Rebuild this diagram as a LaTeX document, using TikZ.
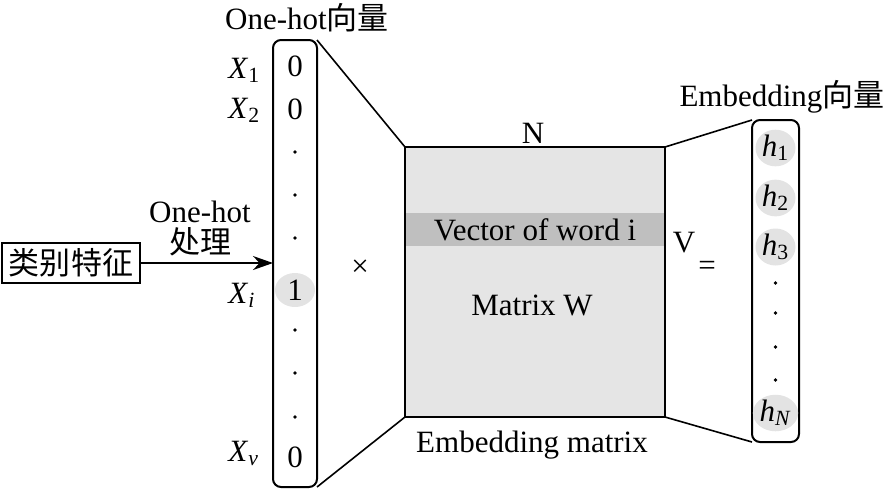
\documentclass[tikz,border=0pt]{standalone}
\usepackage{fontspec}
\setmainfont{Liberation Serif}
\newfontfamily\cjk{Noto Sans CJK SC}
\usetikzlibrary{positioning,shapes.geometric,arrows.meta}

\newcommand{\xlab}[1]{\textit{X}\textsubscript{#1}}
\newcommand{\hlab}[1]{\textit{h}\textsubscript{#1}}

\begin{document}
\begin{tikzpicture}[font=\fontsize{15.5}{15.5}\selectfont,
  vecbox/.style={draw,line width=1pt,rounded corners=4pt,outer sep=0pt,inner sep=0pt},
  hot/.style={ellipse,fill=black!11,inner sep=0pt,minimum width=20pt,minimum height=17pt},
  link/.style={line width=0.8pt}]
\pgfsetxvec{\pgfpoint{0.5pt}{0}}
\pgfsetyvec{\pgfpoint{0}{-0.5pt}}
  \useasboundingbox (0,0) rectangle (887,489);
  % one-hot vector
  \node[vecbox,minimum width=22pt,minimum height=223.5pt] (onehot) at (295,263.5) {};
  \node (ohtitle) at (307,18) {One-hot{\cjk 向量}};
  \node (v1) at (295,66) {0};
  \node (v2) at (295,109) {0};
  \node[hot] (vi) at (295,290) {1};
  \node (vv) at (295,457) {0};
  \foreach \y in {152,195,238,330,373,417} \fill (295,\y) circle (0.9pt);
  \node[anchor=base west,inner sep=0pt] (x1) at (228,78) {\xlab{1}};
  \node[anchor=base west,inner sep=0pt] (x2) at (228,118) {\xlab{2}};
  \node[anchor=base west,inner sep=0pt] (xi) at (228,303) {\xlab{\textit{i}}};
  \node[anchor=base west,inner sep=0pt] (xv) at (228,461) {\xlab{\textit{v}}};
  % input
  \node[draw,line width=0.8pt,minimum width=69pt,minimum height=20pt,inner sep=0pt] (feat) at (71,263) {\cjk 类别特征};
  \node[align=center] (proc) at (200,228) {One-hot\\{\cjk 处理}};
  \draw[link,-{Stealth[length=10pt,width=7pt]}] (feat.east) -- (feat.east -| onehot.west);
  % matrix
  \node[draw,line width=1pt,fill=black!10,minimum width=130pt,minimum height=135pt,outer sep=0pt,inner sep=0pt] (mat) at (535,282) {};
  \node[fill=black!25,minimum width=129pt,minimum height=16.5pt,inner sep=0pt] (band) at (535,229.5) {Vector of word i};
  \node (matw) at (532,305) {Matrix W};
  \node (n) at (533,133) {N};
  \node (embm) at (532,445) {Embedding matrix};
  \node (times) at (360,268) {×};
  \node (v) at (684,243) {V};
  \node (eq) at (707,268) {=};
  % embedding vector
  \node[vecbox,minimum width=23.5pt,minimum height=161pt] (emb) at (775.5,281) {};
  \node (embtitle) at (782,97) {Embedding{\cjk 向量}};
  \foreach \n/\s/\y in {1/1/148,2/2/198,3/3/247,N/\textit{N}/413}
    \node[hot] (h\n) at (775.5,\y) {\hlab{\s}};
  \foreach \y in {283,313,347,380} \fill (775.5,\y) circle (0.9pt);
  % connectors
  \draw[link] (onehot.north east) -- (mat.north west);
  \draw[link] (onehot.south east) -- (mat.south west);
  \draw[link] (mat.north east) -- (emb.north west);
  \draw[link] (mat.south east) -- (emb.south west);
\end{tikzpicture}
\end{document}
